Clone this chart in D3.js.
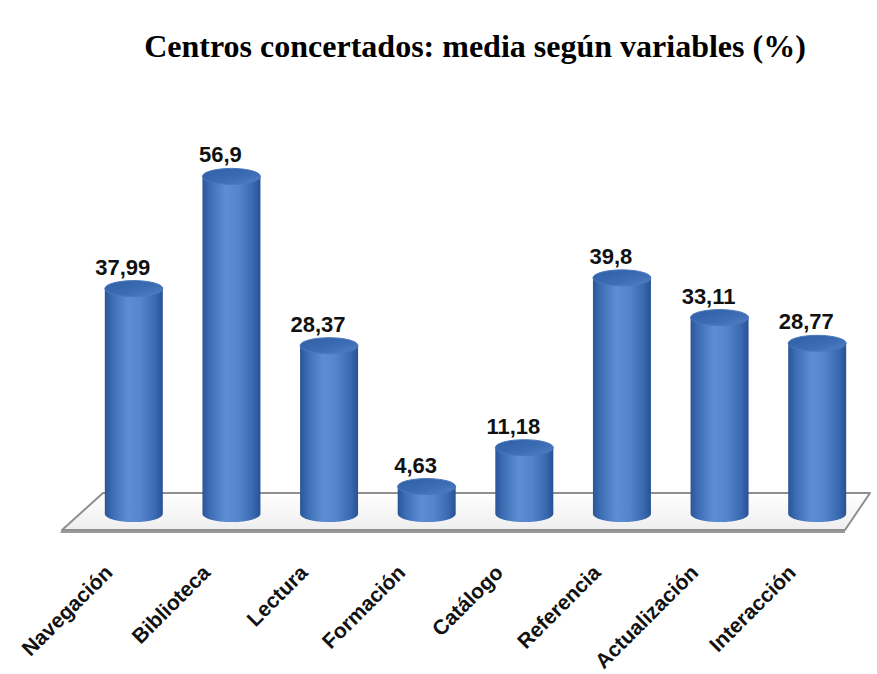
<!DOCTYPE html>
<html>
<head>
<meta charset="utf-8">
<script src="https://cdn.jsdelivr.net/npm/d3@7"></script>
<style>
  html, body { margin: 0; padding: 0; background: #ffffff; }
  svg { display: block; }
</style>
</head>
<body>
<script>
const title = "Centros concertados: media según variables (%)";
const categories = ["Navegación", "Biblioteca", "Lectura", "Formación", "Catálogo", "Referencia", "Actualización", "Interacción"];
const values = [37.99, 56.9, 28.37, 4.63, 11.18, 39.8, 33.11, 28.77];

const W = 877, H = 674;
const svg = d3.select("body").append("svg").attr("width", W).attr("height", H);
const defs = svg.append("defs");

const x = d3.scaleBand().domain(categories).range([85, 866]).padding(0);
const y = d3.scaleLinear().domain([0, 60]).range([514, 158]);
const fmt = d3.formatLocale({decimal: ",", thousands: ".", grouping: [3], currency: ["", "€"]}).format("");

// gradients
const bodyGrad = defs.append("linearGradient").attr("id", "cylBody").attr("x1", "0%").attr("x2", "100%").attr("y1", "0%").attr("y2", "0%");
[["0%", "#2b5597"], ["12%", "#3b6bb2"], ["40%", "#5d8dd3"], ["62%", "#5485cc"], ["88%", "#3868af"], ["100%", "#295192"]]
  .forEach(([o, c]) => bodyGrad.append("stop").attr("offset", o).attr("stop-color", c));
const topGrad = defs.append("linearGradient").attr("id", "cylTop").attr("x1", "0%").attr("x2", "100%").attr("y1", "0%").attr("y2", "100%");
[["0%", "#2f5ea4"], ["60%", "#3d6db5"], ["100%", "#5582c6"]]
  .forEach(([o, c]) => topGrad.append("stop").attr("offset", o).attr("stop-color", c));
const floorGrad = defs.append("linearGradient").attr("id", "floorG").attr("x1", "0%").attr("x2", "0%").attr("y1", "0%").attr("y2", "100%");
[["0%", "#ffffff"], ["100%", "#eeeeee"]]
  .forEach(([o, c]) => floorGrad.append("stop").attr("offset", o).attr("stop-color", c));

// title
svg.append("text")
  .attr("x", 475).attr("y", 57)
  .attr("text-anchor", "middle")
  .attr("font-family", "'Liberation Serif', 'Times New Roman', serif")
  .attr("font-weight", "bold")
  .attr("font-size", 32)
  .attr("fill", "#000")
  .text(title);

// floor
const [r0, r1] = x.range();
const base = y(0);
const floorPts = [[r0 + 18, base - 21], [r1 + 4, base - 21], [r1 - 21, base + 16], [r0 - 23, base + 16]];
svg.append("path")
  .attr("d", "M" + [[r0 - 23, base + 16], [r1 - 21, base + 16], [r1 - 21, base + 19], [r0 - 25, base + 19]].join("L") + "Z")
  .attr("fill", "#9a9a9a");
svg.append("path")
  .attr("d", "M" + floorPts.join("L") + "Z")
  .attr("fill", "url(#floorG)")
  .attr("stroke", "#8f8f8f")
  .attr("stroke-width", 2)
  .attr("stroke-linejoin", "round");

// cylinders
const rx = 29, ry = 8;
const g = svg.append("g");
categories.forEach((c, i) => {
  const cx = x(c) + x.bandwidth() / 2;
  const yt = y(values[i]), yb = y(0);
  g.append("path")
    .attr("d", `M${cx - rx},${yt} L${cx - rx},${yb} A${rx},${ry} 0 0 0 ${cx + rx},${yb} L${cx + rx},${yt} Z`)
    .attr("fill", "url(#cylBody)");
  g.append("ellipse")
    .attr("cx", cx).attr("cy", yt).attr("rx", rx).attr("ry", ry)
    .attr("fill", "url(#cylTop)")
    .attr("stroke", "#4a78bd").attr("stroke-width", 1);
  g.append("text")
    .attr("x", cx - 11).attr("y", yt - 14)
    .attr("text-anchor", "middle")
    .attr("font-family", "'Liberation Sans', Arial, sans-serif")
    .attr("font-weight", "bold")
    .attr("font-size", 22)
    .attr("fill", "#111")
    .text(fmt(values[i]));
});

// category labels
categories.forEach(c => {
  const cx = x(c) + x.bandwidth() / 2;
  svg.append("text")
    .attr("transform", `translate(${cx - 20},${574}) rotate(-45)`)
    .attr("text-anchor", "end")
    .attr("font-family", "'Liberation Sans', Arial, sans-serif")
    .attr("font-weight", "bold")
    .attr("font-size", 21)
    .attr("fill", "#111")
    .text(c);
});
</script>
</body>
</html>
